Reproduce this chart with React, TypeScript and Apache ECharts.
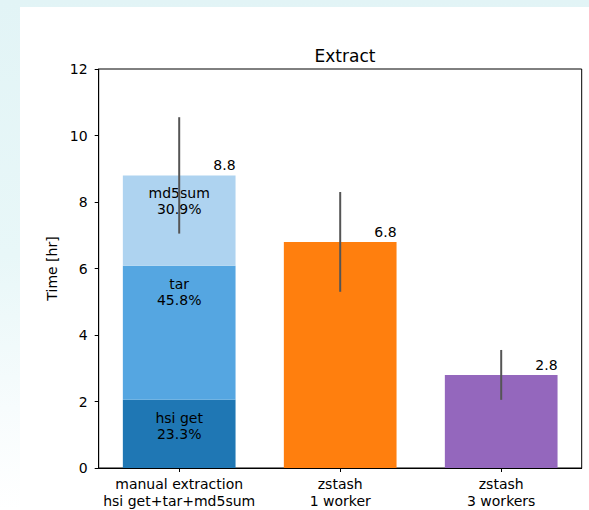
import React, { useEffect, useRef } from "react";
import * as echarts from "echarts";

const categories = ["manual extraction\nhsi get+tar+md5sum", "zstash\n1 worker", "zstash\n3 workers"];
const hsiGet = [2.05, null, null];
const tar = [4.03, null, null];
const md5sum = [2.72, null, null];
const zstash1 = [null, 6.8, null];
const zstash3 = [null, null, 2.8];
const totals = [8.8, 6.8, 2.8];
const errors = [1.75, 1.5, 0.75];
const stackNames = ["hsi get", "tar", "md5sum"];
const stackPct = ["23.3%", "45.8%", "30.9%"];
const yTicks = { min: 0, max: 12, interval: 2 };

const FONT = "DejaVu Sans";

export default function App() {
  const ref = useRef<HTMLDivElement>(null);
  useEffect(() => {
    if (!ref.current) return;
    const chart = echarts.init(ref.current, undefined, { renderer: "svg" });
    const segLabel = (i: number) => ({
      show: true,
      position: "insideTop",
      distance: 10,
      color: "#000",
      fontSize: 14,
      lineHeight: 16,
      fontFamily: FONT,
      formatter: () => stackNames[i] + "\n" + stackPct[i],
    });
    const option: any = {
      animation: false,
      backgroundColor: "transparent",
      textStyle: { fontFamily: FONT },
      title: {
        text: "Extract",
        left: 340,
        top: 42,
        textAlign: "center",
        textStyle: { fontFamily: FONT, fontSize: 17, fontWeight: "normal", color: "#000" },
      },
      grid: {
        left: 98.7,
        right: 7.3,
        top: 69,
        bottom: 42,
        show: true,
        borderColor: "#000",
        borderWidth: 1,
        backgroundColor: "transparent",
      },
      xAxis: {
        type: "category",
        data: categories,
        boundaryGap: true,
        axisLine: { show: true, lineStyle: { color: "#000", width: 1 } },
        axisTick: { show: true, alignWithLabel: true, length: 4, lineStyle: { color: "#000" } },
        axisLabel: { color: "#000", fontSize: 14, lineHeight: 17, margin: 7, fontFamily: FONT, interval: 0 },
        splitLine: { show: false },
      },
      yAxis: {
        type: "value",
        min: yTicks.min,
        max: yTicks.max,
        interval: yTicks.interval,
        name: "Time [hr]",
        nameLocation: "middle",
        nameGap: 33,
        nameTextStyle: { color: "#000", fontSize: 14, fontFamily: FONT },
        axisLine: { show: true, lineStyle: { color: "#000", width: 1 } },
        axisTick: { show: true, length: 4, lineStyle: { color: "#000" } },
        axisLabel: { color: "#000", fontSize: 14, margin: 11, fontFamily: FONT },
        splitLine: { show: false },
      },
      series: [
        { type: "bar", stack: "a", barWidth: "70%", data: hsiGet, itemStyle: { color: "#1f77b4" }, label: segLabel(0) },
        { type: "bar", stack: "a", barWidth: "70%", data: tar, itemStyle: { color: "#55a6e1" }, label: segLabel(1) },
        { type: "bar", stack: "a", barWidth: "70%", data: md5sum, itemStyle: { color: "#aed3f0" }, label: segLabel(2) },
        { type: "bar", stack: "a", barWidth: "70%", data: zstash1, itemStyle: { color: "#ff7f0e" } },
        { type: "bar", stack: "a", barWidth: "70%", data: zstash3, itemStyle: { color: "#9467bd" } },
        {
          type: "custom",
          z: 10,
          data: totals.map((t, i) => [i, t, errors[i]]),
          renderItem: (params: any, api: any) => {
            const i = api.value(0);
            const t = api.value(1);
            const e = api.value(2);
            const top = api.coord([i, t + e]);
            const bot = api.coord([i, t - e]);
            const mid = api.coord([i, t]);
            const band = api.size([1, 0])[0];
            return {
              type: "group",
              children: [
                {
                  type: "line",
                  shape: { x1: top[0], y1: top[1], x2: bot[0], y2: bot[1] },
                  style: { stroke: "#555", lineWidth: 2 },
                },
                {
                  type: "text",
                  x: mid[0] + band * 0.35,
                  y: mid[1] - 3,
                  style: {
                    text: String(t.toFixed(1)),
                    fill: "#000",
                    font: "14px '" + FONT + "'",
                    textAlign: "right",
                    textVerticalAlign: "bottom",
                  },
                },
              ],
            };
          },
        },
      ],
    };
    chart.setOption(option);
    return () => chart.dispose();
  }, []);

  return (
    <div
      style={{
        position: "fixed",
        left: 0,
        top: 0,
        width: 589,
        height: 510,
        background: "linear-gradient(180deg, #e2f4f6 0%, #e8f7f8 50%, #f7fcfd 80%, #ffffff 100%)",
        overflow: "hidden",
      }}
    >
      <div style={{ position: "absolute", left: 20, top: 7, width: 569, height: 503, background: "#fff" }} />
      <div ref={ref} style={{ position: "absolute", left: 0, top: 0, width: 589, height: 510 }} />
    </div>
  );
}
